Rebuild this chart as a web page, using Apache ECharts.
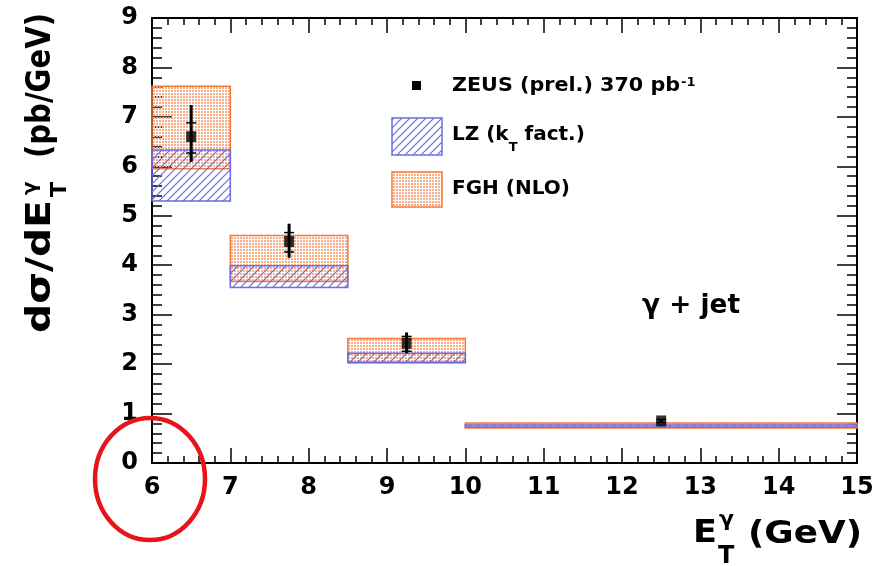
<!DOCTYPE html>
<html lang="en">
<head>
    <meta charset="UTF-8">
    <title>ZEUS prompt photon + jet, dsigma/dE_T</title>
    <script src="https://cdn.jsdelivr.net/npm/echarts@6/dist/echarts.min.js"></script>
    <style>
        html, body { margin: 0; padding: 0; background: #fff; }
        #chartmain { width: 883px; height: 566px; }
    </style>
</head>
<body>
<div id="chartmain"></div>
<script>
    // E_T^gamma bins (GeV)
    var binLo = [6, 7, 8.5, 10];
    var binHi = [7, 8.5, 10, 15];
    // ZEUS (prel.) points, pb/GeV
    var zeusX = [6.5, 7.75, 9.25, 12.5];
    var zeusY = [6.6, 4.48, 2.42, 0.85];
    var statLo = [6.27, 4.27, 2.26, 0.82];
    var statHi = [6.88, 4.66, 2.56, 0.88];
    var totLo = [6.09, 4.15, 2.22, 0.81];
    var totHi = [7.24, 4.84, 2.64, 0.89];
    // LZ (kT fact.) band
    var lzLo = [5.30, 3.55, 2.04, 0.73];
    var lzHi = [6.33, 3.99, 2.22, 0.77];
    // FGH (NLO) band
    var fghLo = [5.95, 3.67, 2.02, 0.71];
    var fghHi = [7.62, 4.60, 2.52, 0.81];
    // tick labels
    var xTicks = [6, 7, 8, 9, 10, 11, 12, 13, 14, 15];
    var yTicks = [0, 1, 2, 3, 4, 5, 6, 7, 8, 9];

    var FONT = '"DejaVu Sans", "Liberation Sans", sans-serif';
    var BLUE = '#6a6ae6';
    var ORANGE = '#f37a3c';

    // fill patterns (ROOT style hatch / dots)
    function hatch(color) {
        var c = document.createElement('canvas');
        c.width = 8; c.height = 8;
        var g = c.getContext('2d');
        g.strokeStyle = color;
        g.lineWidth = 1.2;
        g.beginPath();
        g.moveTo(0, 8); g.lineTo(8, 0);
        g.moveTo(-2, 2); g.lineTo(2, -2);
        g.moveTo(6, 10); g.lineTo(10, 6);
        g.stroke();
        return c;
    }
    function dots(color) {
        var c = document.createElement('canvas');
        c.width = 3; c.height = 3;
        var g = c.getContext('2d');
        g.fillStyle = color;
        g.fillRect(0, 0, 2, 2);
        return c;
    }
    var hatchImg = hatch(BLUE);
    var dotImg = dots('#f6ad88');

    var mctx = document.createElement('canvas').getContext('2d');
    function tw(str, size) {
        mctx.font = 'bold ' + size + 'px ' + FONT;
        return mctx.measureText(str).width;
    }
    // text piece, optionally stretched to a target length
    function txt(str, size, x, y, fitW, rot) {
        var el = {
            type: 'text', x: x, y: y, z: 100,
            style: {text: str, fill: '#000', font: 'bold ' + size + 'px ' + FONT, align: 'left', verticalAlign: 'middle'}
        };
        if (fitW) el.scaleX = fitW / tw(str, size);
        if (rot) el.rotation = rot;
        return el;
    }

    function boxSeries(name, lo, hi, img, stroke, z) {
        return {
            type: 'custom', name: name, z: z, silent: true,
            data: binLo.map(function (b, i) { return [b, binHi[i], lo[i], hi[i]]; }),
            encode: {x: [0, 1], y: [2, 3]},
            renderItem: function (params, api) {
                var p0 = api.coord([api.value(0), api.value(3)]);
                var p1 = api.coord([api.value(1), api.value(2)]);
                return {
                    type: 'rect',
                    shape: {x: p0[0], y: p0[1], width: p1[0] - p0[0], height: p1[1] - p0[1]},
                    style: {fill: {image: img, repeat: 'repeat'}, stroke: stroke, lineWidth: 1.5}
                };
            }
        };
    }

    function axisX(pos) {
        return {
            type: 'value', position: pos,
            min: xTicks[0], max: xTicks[xTicks.length - 1], interval: xTicks[1] - xTicks[0],
            axisLine: {show: true, onZero: false, lineStyle: {color: '#000', width: 2}},
            axisTick: {show: true, inside: true, length: 15, lineStyle: {color: '#000', width: 1.5}},
            minorTick: {show: true, splitNumber: 5, length: 7, lineStyle: {color: '#000', width: 1.5}},
            axisLabel: {show: pos === 'bottom', color: '#000', fontSize: 24, fontWeight: 'bold', fontFamily: FONT, margin: 13},
            splitLine: {show: false}
        };
    }
    function axisY(pos) {
        return {
            type: 'value', position: pos,
            min: yTicks[0], max: yTicks[yTicks.length - 1], interval: yTicks[1] - yTicks[0],
            axisLine: {show: true, onZero: false, lineStyle: {color: '#000', width: 2}},
            axisTick: {show: true, inside: true, length: 20, lineStyle: {color: '#000', width: 1.5}},
            minorTick: {show: true, splitNumber: 5, length: 10, lineStyle: {color: '#000', width: 1.5}},
            axisLabel: {show: pos === 'left', color: '#000', fontSize: 24, fontWeight: 'bold', fontFamily: FONT, margin: 14},
            splitLine: {show: false}
        };
    }

    var graphics = [
        // legend
        {type: 'rect', z: 100, shape: {x: 412, y: 81, width: 9, height: 9}, style: {fill: '#000'}},
        txt('ZEUS (prel.) 370 pb', 20, 452, 86, 228),
        txt('-1', 13, 681, 83),
        {type: 'rect', z: 100, shape: {x: 392, y: 118, width: 50, height: 37},
            style: {fill: {image: hatchImg, repeat: 'repeat'}, stroke: BLUE, lineWidth: 1.5}},
        txt('LZ (k', 20, 452, 135),
        txt('T', 13, 452 + tw('LZ (k', 20), 148),
        txt(' fact.)', 20, 452 + tw('LZ (k', 20) + tw('T', 13), 135),
        {type: 'rect', z: 100, shape: {x: 392, y: 172, width: 50, height: 35},
            style: {fill: {image: dotImg, repeat: 'repeat'}, stroke: ORANGE, lineWidth: 1.5}},
        txt('FGH (NLO)', 20, 452, 189),
        // gamma + jet
        txt('\u03b3 + jet', 27, 642, 306, 98),
        // x title
        txt('E', 32, 693, 534, 24),
        txt('T', 24, 718, 557),
        txt('\u03b3', 22, 719, 520),
        txt('(GeV)', 32, 748, 535, 114),
        // y title (reads bottom to top)
        txt('d\u03c3/dE', 34, 41, 333, 133, Math.PI / 2),
        txt('T', 22, 60, 197, null, Math.PI / 2),
        txt('\u03b3', 20, 31, 195, null, Math.PI / 2),
        txt('(pb/GeV)', 34, 41, 158, 145, Math.PI / 2),
        // red circle
        {type: 'ellipse', z: 110, shape: {cx: 150, cy: 479, rx: 55, ry: 61},
            style: {fill: 'none', stroke: '#e8141c', lineWidth: 4.5}}
    ];

    var option = {
        animation: false,
        backgroundColor: '#fff',
        grid: {left: 152, right: 26, top: 18, bottom: 103},
        xAxis: [axisX('bottom'), axisX('top')],
        yAxis: [axisY('left'), axisY('right')],
        series: [
            boxSeries('FGH (NLO)', fghLo, fghHi, dotImg, ORANGE, 2),
            boxSeries('LZ (kT fact.)', lzLo, lzHi, hatchImg, BLUE, 3),
            {
                type: 'custom', name: 'ZEUS errors', z: 5, silent: true,
                data: zeusX.map(function (x, i) { return [x, totLo[i], totHi[i], statLo[i], statHi[i]]; }),
                encode: {x: 0, y: [1, 2]},
                renderItem: function (params, api) {
                    var x = api.value(0);
                    var a = api.coord([x, api.value(1)]);
                    var b = api.coord([x, api.value(2)]);
                    var s1 = api.coord([x, api.value(3)]);
                    var s2 = api.coord([x, api.value(4)]);
                    var thin = {stroke: '#000', lineWidth: 1.5};
                    return {
                        type: 'group', children: [
                            {type: 'line', shape: {x1: a[0], y1: a[1], x2: b[0], y2: b[1]}, style: {stroke: '#000', lineWidth: 3}},
                            {type: 'line', shape: {x1: s1[0] - 5, y1: s1[1], x2: s1[0] + 5, y2: s1[1]}, style: thin},
                            {type: 'line', shape: {x1: s2[0] - 5, y1: s2[1], x2: s2[0] + 5, y2: s2[1]}, style: thin}
                        ]
                    };
                }
            },
            {
                type: 'scatter', name: 'ZEUS (prel.)', z: 6, silent: true,
                symbol: 'rect', symbolSize: [10, 11],
                itemStyle: {color: '#000'},
                data: zeusX.map(function (x, i) { return [x, zeusY[i]]; })
            }
        ],
        graphic: graphics
    };

    var myChart = echarts.init(document.getElementById('chartmain'));
    myChart.setOption(option);
</script>
</body>
</html>
